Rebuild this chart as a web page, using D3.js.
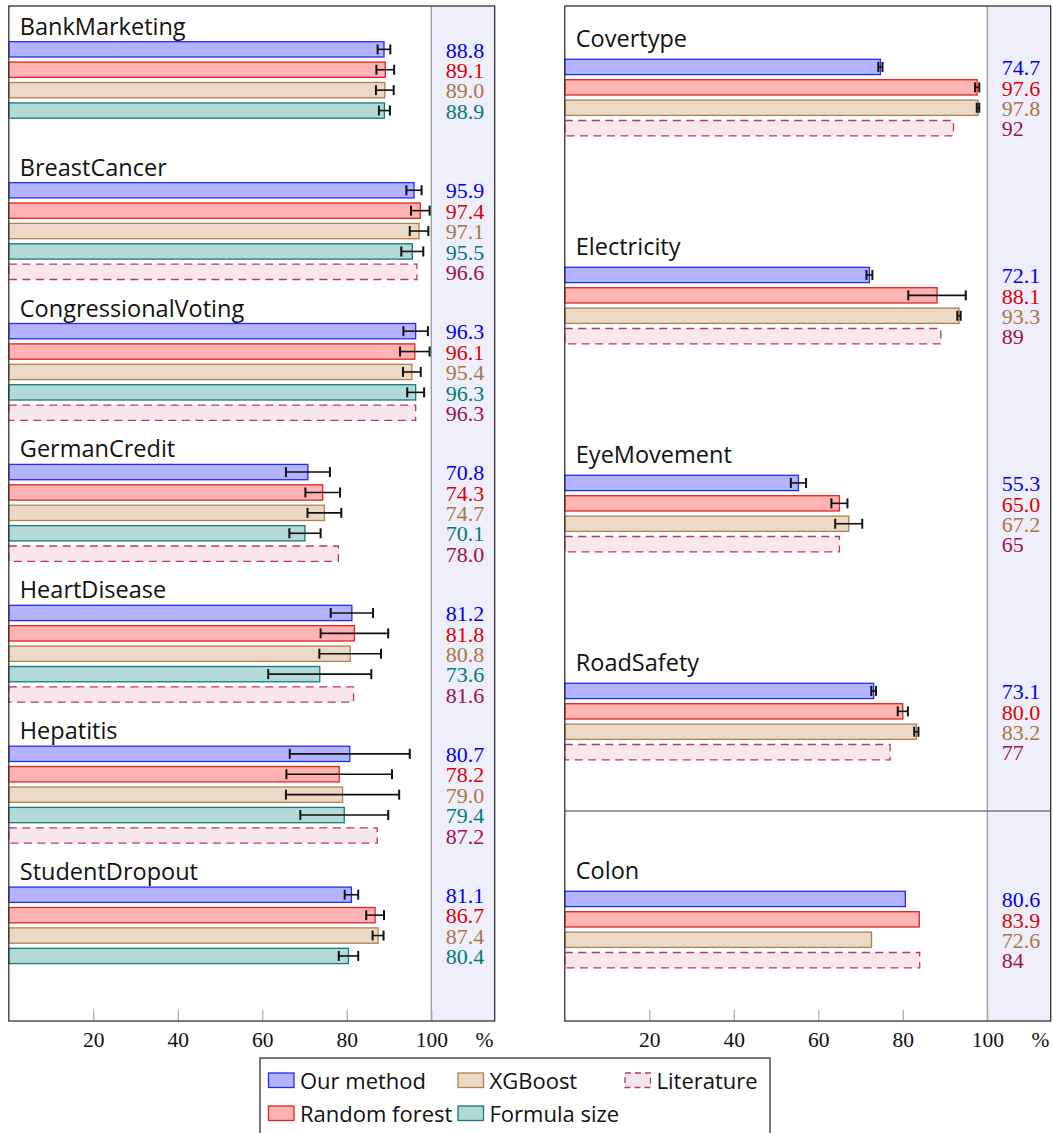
<!DOCTYPE html>
<html><head><meta charset="utf-8">
<script src="https://cdn.jsdelivr.net/npm/d3@7"></script>
<style>body{margin:0;background:#fff} svg{display:block}</style>
</head><body><svg id="c" width="1053" height="1133"></svg>
<script>
// ---------------- data ----------------
const leftDatasets = ["BankMarketing","BreastCancer","CongressionalVoting","GermanCredit","HeartDisease","Hepatitis","StudentDropout"];
const leftOur      = [88.8, 95.9, 96.3, 70.8, 81.2, 80.7, 81.1];
const leftOurErr   = [1.5, 1.8, 2.9, 5.2, 5.0, 14.2, 1.6];
const leftRF       = [89.1, 97.4, 96.1, 74.3, 81.8, 78.2, 86.7];
const leftRFErr    = [2.1, 2.2, 3.5, 4.1, 8.0, 12.5, 2.1];
const leftXGB      = [89.0, 97.1, 95.4, 74.7, 80.8, 79.0, 87.4];
const leftXGBErr   = [2.1, 2.2, 2.1, 4.0, 7.3, 13.4, 1.3];
const leftFormula  = [88.9, 95.5, 96.3, 70.1, 73.6, 79.4, 80.4];
const leftFormulaErr = [1.3, 2.6, 2.0, 3.7, 12.2, 10.4, 2.3];
const leftLit      = [null, 96.6, 96.3, 78.0, 81.6, 87.2, null];

const rightDatasets = ["Covertype","Electricity","EyeMovement","RoadSafety","Colon"];
const rightOur     = [74.7, 72.1, 55.3, 73.1, 80.6];
const rightOurErr  = [0.5, 0.7, 1.8, 0.55, null];
const rightRF      = [97.6, 88.1, 65.0, 80.0, 83.9];
const rightRFErr   = [0.5, 6.8, 1.9, 1.2, null];
const rightXGB     = [97.8, 93.3, 67.2, 83.2, 72.6];
const rightXGBErr  = [0.3, 0.4, 3.2, 0.5, null];
const rightLit     = [92, 89, 65, 77, 84];

const xTicks = [20, 40, 60, 80, 100];
const legendOrder = [["our","xgb","lit"],["rf","formula"]];
const seriesNames = {our:"Our method", rf:"Random forest", xgb:"XGBoost", formula:"Formula size", lit:"Literature"};

// ---------------- styles ----------------
const sty = {
  our:     {fill:"#b3b3ff", stroke:"#2a2af5", text:"#0000f0"},
  rf:      {fill:"#ffb3b3", stroke:"#e32222", text:"#e00000"},
  xgb:     {fill:"#ebd9c5", stroke:"#b0804f", text:"#a97541"},
  formula: {fill:"#b3d9d8", stroke:"#16787a", text:"#007a7a"},
  lit:     {fill:"#f8e6ec", stroke:"#b8386a", text:"#a0104c", dash:"8,5.5"}
};
const sans = "'Open Sans', sans-serif";
const serif = "'Liberation Serif', serif";

const svg = d3.select("#c");

function panel(cfg) {
  const x = d3.scaleLinear().domain([0, 115]).range([cfg.x0, cfg.x0 + 115 * 4.225]);
  const right = x(115);
  const yG = d3.scaleBand().domain(cfg.datasets).range([cfg.gStart, cfg.gStart + cfg.datasets.length * cfg.pitch]);
  const step = 20.4, p = 0.25;
  const yS = d3.scaleBand().domain(cfg.series.map(s => s.key)).range([30, 30 + step * (cfg.series.length - p)]).paddingInner(p);

  const g = svg.append("g");
  // shaded region
  g.append("rect").attr("x", x(100)).attr("y", cfg.top).attr("width", right - x(100)).attr("height", cfg.bottom - cfg.top).attr("fill", "#efeffc");
  g.append("line").attr("x1", x(100)).attr("x2", x(100)).attr("y1", cfg.top).attr("y2", cfg.bottom).attr("stroke", "#999").attr("stroke-width", 1.3);
  if (cfg.divider) {
    g.append("line").attr("x1", x(0)).attr("x2", right).attr("y1", cfg.divider).attr("y2", cfg.divider).attr("stroke", "#777").attr("stroke-width", 1.3);
  }

  const rows = [];
  cfg.datasets.forEach((ds, i) => {
    cfg.series.forEach(s => {
      const v = s.vals[i];
      if (v == null) return;
      rows.push({ds, key: s.key, v, err: s.err ? s.err[i] : null, fmt: s.fmt || ".1f"});
    });
  });
  const yOf = d => yG(d.ds) + yS(d.key);
  const bh = yS.bandwidth();

  // bars
  g.selectAll("rect.bar").data(rows).join("rect").attr("class", "bar")
    .attr("x", x(0)).attr("y", yOf).attr("width", d => x(d.v) - x(0)).attr("height", bh)
    .attr("fill", d => sty[d.key].fill).attr("stroke", d => sty[d.key].stroke).attr("stroke-width", 1.3)
    .attr("stroke-dasharray", d => sty[d.key].dash || null);

  // error bars
  const eb = rows.filter(d => d.err != null);
  const eg = g.selectAll("g.err").data(eb).join("g").attr("class", "err");
  eg.append("line").attr("x1", d => x(d.v - d.err)).attr("x2", d => x(d.v + d.err))
    .attr("y1", d => yOf(d) + bh / 2).attr("y2", d => yOf(d) + bh / 2).attr("stroke", "#111").attr("stroke-width", 1.6);
  [-1, 1].forEach(sg => {
    eg.append("line").attr("x1", d => x(d.v + sg * d.err)).attr("x2", d => x(d.v + sg * d.err))
      .attr("y1", d => yOf(d) + bh / 2 - 5).attr("y2", d => yOf(d) + bh / 2 + 5).attr("stroke", "#111").attr("stroke-width", 2);
  });

  // value labels
  g.selectAll("text.val").data(rows).join("text").attr("class", "val")
    .attr("x", x(103.4)).attr("y", d => yOf(d) + bh + 0.5)
    .attr("font-family", serif).attr("font-size", 22).attr("fill", d => sty[d.key].text)
    .text(d => d3.format(d.fmt)(d.v));

  // titles
  g.selectAll("text.title").data(cfg.datasets).join("text").attr("class", "title")
    .attr("x", x(0) + 11).attr("y", d => yG(d) + 30 - cfg.titleGap)
    .attr("font-family", sans).attr("font-size", 23.5).attr("fill", "#111").text(d => d);

  // axis
  const ax = g.append("g").attr("transform", `translate(0,${cfg.bottom})`)
    .call(d3.axisBottom(x).tickValues(xTicks).tickSizeInner(-11).tickSizeOuter(0).tickPadding(11));
  ax.select(".domain").remove();
  ax.selectAll(".tick line").attr("stroke", "#aaa").attr("stroke-width", 1.2);
  ax.selectAll(".tick text").attr("font-family", serif).attr("font-size", 21.5).attr("fill", "#111");
  g.append("text").attr("x", x(112.6)).attr("y", cfg.bottom + 26).attr("text-anchor", "middle")
    .attr("font-family", serif).attr("font-size", 21.5).attr("fill", "#111").text("%");

  // border
  g.append("rect").attr("x", x(0)).attr("y", cfg.top).attr("width", right - x(0)).attr("height", cfg.bottom - cfg.top)
    .attr("fill", "none").attr("stroke", "#333").attr("stroke-width", 1.3);
}

panel({
  x0: 8.8, top: 6, bottom: 1021, datasets: leftDatasets, gStart: 11.7, pitch: 140.9, titleGap: 7,
  series: [
    {key: "our", vals: leftOur, err: leftOurErr},
    {key: "rf", vals: leftRF, err: leftRFErr},
    {key: "xgb", vals: leftXGB, err: leftXGBErr},
    {key: "formula", vals: leftFormula, err: leftFormulaErr},
    {key: "lit", vals: leftLit}
  ]
});
panel({
  x0: 564.8, top: 6, bottom: 1021, datasets: rightDatasets, gStart: 29.3, pitch: 208, titleGap: 12, divider: 811,
  series: [
    {key: "our", vals: rightOur, err: rightOurErr},
    {key: "rf", vals: rightRF, err: rightRFErr},
    {key: "xgb", vals: rightXGB, err: rightXGBErr},
    {key: "lit", vals: rightLit, fmt: "d"}
  ]
});

// ---------------- legend ----------------
const lg = svg.append("g");
lg.append("rect").attr("x", 260).attr("y", 1058).attr("width", 510).attr("height", 90)
  .attr("fill", "#fff").attr("stroke", "#333").attr("stroke-width", 1.3);
const colX = d3.scaleOrdinal().domain([0, 1, 2]).range([268.5, 458, 625]);
const rowY = d3.scaleOrdinal().domain([0, 1]).range([1073, 1106]);
legendOrder.forEach((row, ri) => row.forEach((k, ci) => {
  const e = lg.append("g").attr("transform", `translate(${colX(ci)},${rowY(ri)})`);
  e.append("rect").attr("x", 0).attr("y", 0).attr("width", 25.5).attr("height", 14.5)
    .attr("fill", sty[k].fill).attr("stroke", sty[k].stroke).attr("stroke-width", 1.3)
    .attr("stroke-dasharray", sty[k].dash ? "6,4" : null);
  e.append("text").attr("x", 31.5).attr("y", 15.5).attr("font-family", sans).attr("font-size", 22)
    .attr("fill", "#111").text(seriesNames[k]);
}));
</script></body></html>
